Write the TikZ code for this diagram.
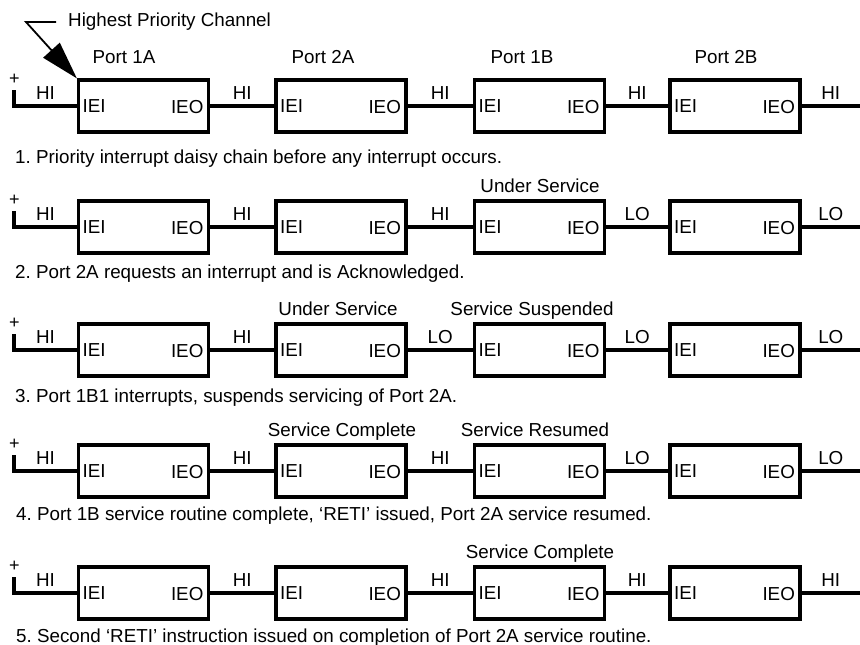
\documentclass[tikz,border=0pt]{standalone}
\usepackage{fontspec}
\setmainfont{Liberation Sans}
\usetikzlibrary{arrows.meta}
\frenchspacing

\tikzset{
  chip/.style={draw, line width=3.2pt, minimum width=130pt, minimum height=52pt, inner sep=0pt},
  wire/.style={line width=3.2pt},
  txt/.style={inner sep=0pt, font=\fontsize{18.8}{20}\selectfont},
  plussign/.style={inner sep=0pt, font=\fontsize{18}{19}\selectfont},
  pointer/.style={line width=1.8pt, -{Triangle[length=38pt,width=22pt]}},
}

\newcommand\chainrow[7]{%
  \node[chip] (b#1a) at (143.5,#2) {};
  \node[chip] (b#1b) at (341,#2) {};
  \node[chip] (b#1c) at (539.5,#2) {};
  \node[chip] (b#1d) at (735,#2) {};
  \foreach \k in {a,b,c,d}{
    \node[txt, anchor=base west] (iei#1\k) at ([xshift=5.5pt,yshift=-6pt]b#1\k.west) {IEI};
    \node[txt, anchor=base east] (ieo#1\k) at ([xshift=-6.5pt,yshift=-7pt]b#1\k.east) {IEO};
  }
  \coordinate (s#1) at (14,#2-16);
  \coordinate (e#1) at (860,#2);
  \node[plussign] (plus#1) at (14.5,#2-26.5) {+};
  \draw[wire] (s#1) |- (b#1a.west) node[pos=0.75, txt, anchor=base, yshift=7pt] {#3};
  \draw[wire] (b#1a.east) -- (b#1b.west) node[midway, txt, anchor=base, yshift=7pt] {#4};
  \draw[wire] (b#1b.east) -- (b#1c.west) node[midway, txt, anchor=base, yshift=7pt] {#5};
  \draw[wire] (b#1c.east) -- (b#1d.west) node[midway, txt, anchor=base, yshift=7pt] {#6};
  \draw[wire] (b#1d.east) -- (e#1) node[midway, txt, anchor=base, yshift=7pt] {#7};
}

\begin{document}
\begin{tikzpicture}[x=1pt, y=-1pt]
  \useasboundingbox (0,0) rectangle (860,645);

  % Row 1
  \chainrow{1}{106}{HI}{HI}{HI}{HI}{HI}
  \node[txt, anchor=base] (p1a) at ([xshift=-19.5pt,yshift=14.5pt]b1a.north) {Port 1A};
  \node[txt, anchor=base] (p1b) at ([xshift=-18pt,yshift=14.5pt]b1b.north) {Port 2A};
  \node[txt, anchor=base] (p1c) at ([xshift=-17.5pt,yshift=14.5pt]b1c.north) {Port 1B};
  \node[txt, anchor=base] (p1d) at ([xshift=-9pt,yshift=14.5pt]b1d.north) {Port 2B};
  \node[txt, anchor=base west] (hpc) at (68,26) {Highest Priority Channel};
  \coordinate (hpcA) at (56,22);
  \coordinate (hpcB) at (26,22);
  \draw[pointer] (hpcA) -- (hpcB) -- (b1a.north west);
  \node[txt, anchor=base west] (cap1) at (15,163) {1. Priority interrupt daisy chain before any interrupt occurs.};

  % Row 2
  \chainrow{2}{227}{HI}{HI}{HI}{LO}{LO}
  \node[txt, anchor=base] (st2c) at ([xshift=0.5pt,yshift=7.4pt]b2c.north) {Under Service};
  \node[txt, anchor=base west] (cap2) at (15,278) {2. Port 2A requests an interrupt and is Acknowledged.};

  % Row 3
  \chainrow{3}{350}{HI}{HI}{LO}{LO}{LO}
  \node[txt, anchor=base] (st3b) at ([xshift=-3pt,yshift=7.4pt]b3b.north) {Under Service};
  \node[txt, anchor=base] (st3c) at ([xshift=-7.5pt,yshift=7.4pt]b3c.north) {Service Suspended};
  \node[txt, anchor=base west] (cap3) at (15,402) {3. Port 1B1 interrupts, suspends servicing of Port 2A.};

  % Row 4
  \chainrow{4}{471}{HI}{HI}{HI}{LO}{LO}
  \node[txt, anchor=base] (st4b) at ([xshift=1pt,yshift=7.4pt]b4b.north) {Service Complete};
  \node[txt, anchor=base] (st4c) at ([xshift=-4.5pt,yshift=7.4pt]b4c.north) {Service Resumed};
  \node[txt, anchor=base west] (cap4) at (16,520) {4. Port 1B service routine complete, ‘RETI’ issued, Port 2A service resumed.};

  % Row 5
  \chainrow{5}{593}{HI}{HI}{HI}{HI}{HI}
  \node[txt, anchor=base] (st5c) at ([xshift=0.5pt,yshift=7.4pt]b5c.north) {Service Complete};
  \node[txt, anchor=base west] (cap5) at (16,642) {5. Second ‘RETI’ instruction issued on completion of Port 2A service routine.};
\end{tikzpicture}
\end{document}
